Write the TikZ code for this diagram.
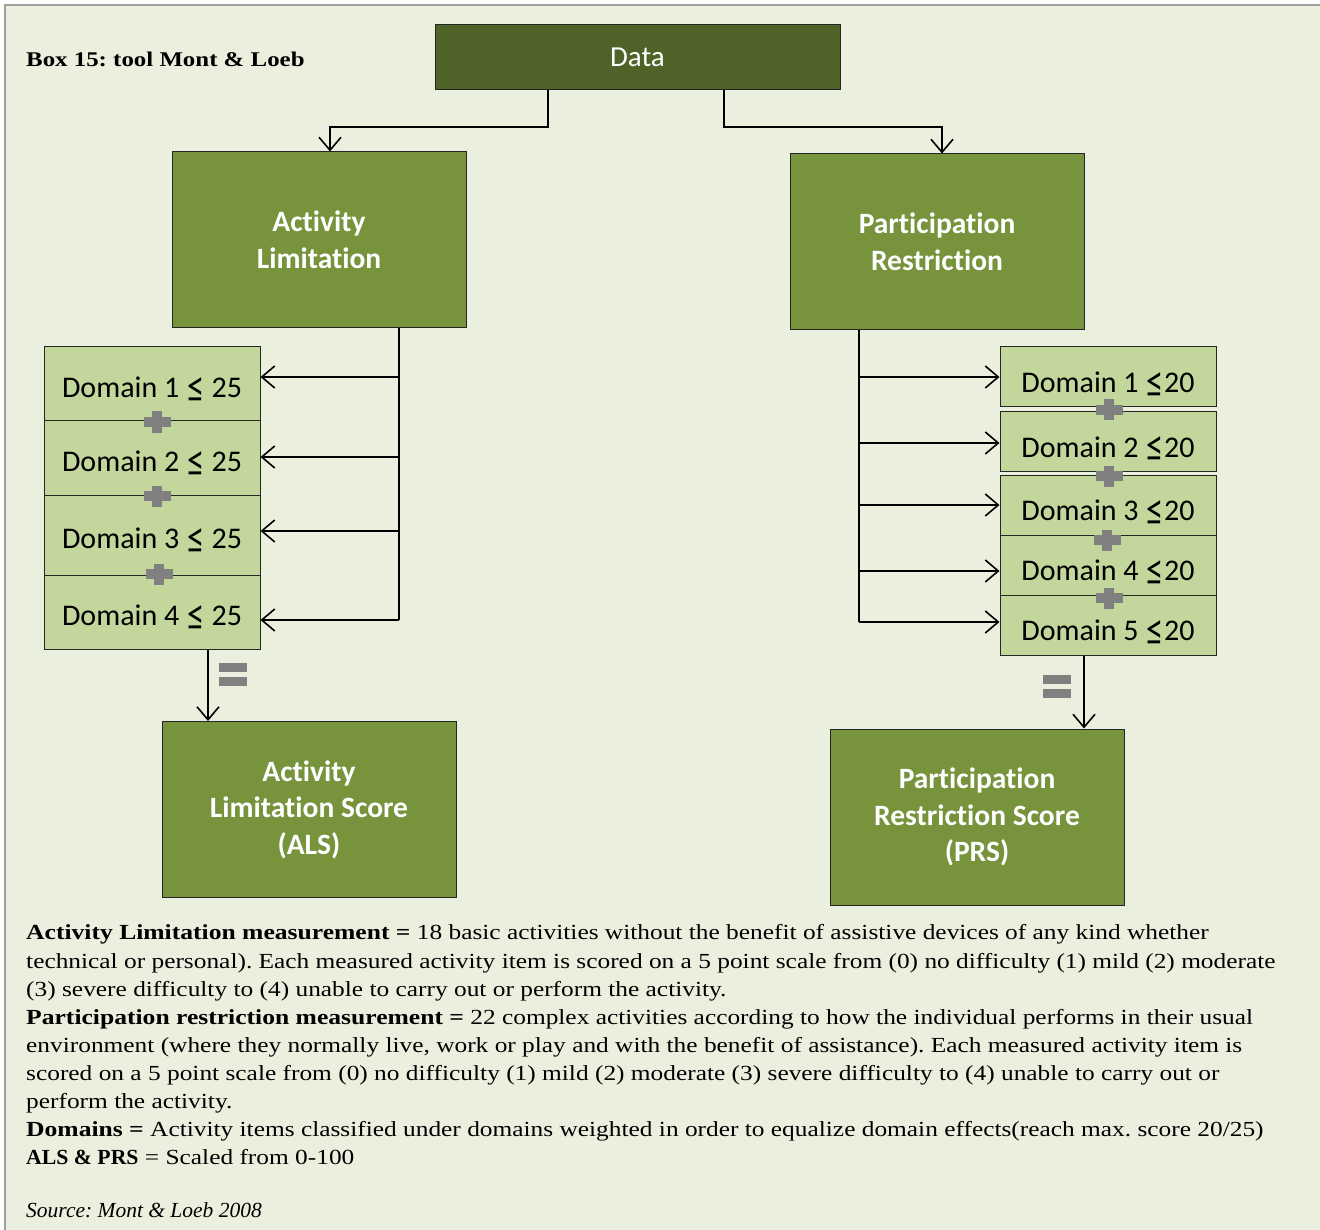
\documentclass[tikz,border=0pt]{standalone}
\usepackage{fontspec}
\setmainfont{Liberation Serif}[
  UprightFeatures={FakeStretch=1.18},
  BoldFeatures={FakeStretch=1.19},
  ItalicFeatures={FakeStretch=1.0}]
\newfontfamily\boxfont{Carlito}[Ligatures=CommonOff]
\usetikzlibrary{arrows.meta}
\definecolor{bgpale}{RGB}{235,240,222}
\definecolor{olivedark}{RGB}{79,98,40}
\definecolor{olivemid}{RGB}{119,147,60}
\definecolor{olivelight}{RGB}{195,214,155}
\definecolor{signgray}{RGB}{128,128,128}
\definecolor{framegray}{RGB}{160,160,160}

% taller less-or-equal sign for the domain labels, resting on the baseline
\newcommand\leqsign{\hspace{1.5pt}\raisebox{-5pt}{\scalebox{1.15}[1.5]{≤}}}

\tikzset{
  pics/plussign/.style={code={
    \fill[signgray] (-13.5,-5) rectangle (13.5,5);
    \fill[signgray] (-5,-10.5) rectangle (5,10.5);
  }},
  pics/equalsign/.style={code={
    \fill[signgray] (-14,-11.5) rectangle (14,-2.5);
    \fill[signgray] (-14,2.5) rectangle (14,11.5);
  }},
}

\begin{document}
\frenchspacing
\begin{tikzpicture}[x=1pt,y=-1pt,
  box/.style={draw=black!85, line width=1pt, rectangle, inner sep=0pt, align=center},
  topbox/.style={box, fill=olivedark, text=white, font=\boxfont\fontsize{29}{35}\selectfont},
  groupbox/.style={box, fill=olivemid, text=white,
    font=\boxfont\bfseries\fontsize{29.5}{36.5}\selectfont,
    minimum width=294pt, minimum height=176pt},
  dombox/.style={box, fill=olivelight, text=black,
    font=\boxfont\fontsize{30}{36}\selectfont, minimum width=216pt, text depth=0pt},
  arr/.style={line width=1.6pt, -{Straight Barb[length=13pt,width=22pt,line width=1.6pt]}},
  wire/.style={line width=1.6pt},
  body/.style={anchor=base west, inner sep=0pt, font=\fontsize{21.5}{28}\selectfont},
]
\useasboundingbox (0,0) rectangle (1320,1230);
\fill[white] (0,0) rectangle (1320,1230);
\draw[framegray, line width=2pt, fill=bgpale] (5,5) rectangle (1345,1255);

% heading
\node[body, font=\bfseries\fontsize{20.9}{28}\selectfont] (title) at (26,67) {Box 15: tool Mont \& Loeb};

% top of the tree
\node[topbox, minimum width=405pt, minimum height=65pt] (data) at (637.5,57.5) {Data};
\node[groupbox] (al) at (319,240) {Activity\\Limitation};
\node[groupbox] (pr) at (937,242) {Participation\\Restriction};

% left column of domains
\node[dombox, minimum height=74pt, text height=27pt] (d1) at (152,384) {Domain 1 \leqsign{} 25};
\node[dombox, minimum height=74pt, text height=27pt] (d2) at (152,458) {Domain 2 \leqsign{} 25};
\node[dombox, minimum height=80pt, text height=27pt] (d3) at (152,535) {Domain 3 \leqsign{} 25};
\node[dombox, minimum height=74pt, text height=27pt] (d4) at (152,612) {Domain 4 \leqsign{} 25};

% right column of domains
\node[dombox, minimum height=60pt, text height=31pt] (r1) at (1108,377) {Domain 1 \leqsign20};
\node[dombox, minimum height=59pt, text height=31pt] (r2) at (1108,441.5) {Domain 2 \leqsign20};
\node[dombox, minimum height=60pt, text height=31pt] (r3) at (1108,505) {Domain 3 \leqsign20};
\node[dombox, minimum height=60pt, text height=31pt] (r4) at (1108,565) {Domain 4 \leqsign20};
\node[dombox, minimum height=60pt, text height=31pt] (r5) at (1108,625) {Domain 5 \leqsign20};

% score boxes
\node[groupbox] (als) at (309,809.5) {Activity\\Limitation Score\\(ALS)};
\node[groupbox] (prs) at (977,817) {Participation\\Restriction Score\\(PRS)};

% operators between the domains
\pic at (157,422) {plussign};
\pic at (157,496) {plussign};
\pic at (159,574) {plussign};
\pic at (1109,410) {plussign};
\pic at (1109,476) {plussign};
\pic at (1107,540) {plussign};
\pic at (1109,598) {plussign};
\pic at (233,674) {equalsign};
\pic at (1057,686) {equalsign};

% branching from the data box
\coordinate (jl) at (548,127);
\coordinate (jr) at (724,127);
\coordinate (tl) at (330,127);
\coordinate (tr) at (942,127);
\draw[arr] (data.south -| jl) -- (jl) -- (tl) -- (al.north -| tl);
\draw[arr] (data.south -| jr) -- (jr) -- (tr) -- (pr.north -| tr);

% left bus feeding the domains
\coordinate (lb1) at (399,377);
\coordinate (lb2) at (399,457);
\coordinate (lb3) at (399,531);
\coordinate (lb4) at (399,620);
\draw[wire] (al.south -| lb1) -- (lb4);
\draw[arr] (lb1) -- (lb1 -| d1.east);
\draw[arr] (lb2) -- (lb2 -| d2.east);
\draw[arr] (lb3) -- (lb3 -| d3.east);
\draw[arr] (lb4) -- (lb4 -| d4.east);

% right bus feeding the domains
\coordinate (rb1) at (859,377);
\coordinate (rb2) at (859,443);
\coordinate (rb3) at (859,505);
\coordinate (rb4) at (859,571);
\coordinate (rb5) at (859,622);
\draw[wire] (pr.south -| rb1) -- (rb5);
\draw[arr] (rb1) -- (rb1 -| r1.west);
\draw[arr] (rb2) -- (rb2 -| r2.west);
\draw[arr] (rb3) -- (rb3 -| r3.west);
\draw[arr] (rb4) -- (rb4 -| r4.west);
\draw[arr] (rb5) -- (rb5 -| r5.west);

% sums into the scores
\coordinate (sl) at (208,0);
\coordinate (sr) at (1084,0);
\draw[arr] (d4.south -| sl) -- (als.north -| sl);
\draw[arr] (r5.south -| sr) -- (prs.north -| sr);

% notes
\node[body] (n1) at (26,939) {\textbf{Activity Limitation measurement =} 18 basic activities without the benefit of assistive devices of any kind whether};
\node[body] (n2) at (26,968) {technical or personal). Each measured activity item is scored on a 5 point scale from (0) no difficulty (1) mild (2) moderate};
\node[body] (n3) at (26,996) {(3) severe difficulty to (4) unable to carry out or perform the activity.};
\node[body] (n4) at (26,1024) {\textbf{Participation restriction measurement =} 22 complex activities according to how the individual performs in their usual};
\node[body] (n5) at (26,1052) {environment (where they normally live, work or play and with the benefit of assistance). Each measured activity item is};
\node[body] (n6) at (26,1080) {scored on a 5 point scale from (0) no difficulty (1) mild (2) moderate (3) severe difficulty to (4) unable to carry out or};
\node[body] (n7) at (26,1108) {perform the activity.};
\node[body] (n8) at (26,1136) {\textbf{Domains =} Activity items classified under domains weighted in order to equalize domain effects(reach max. score 20/25)};
\node[body] (n9) at (26,1164) {\scalebox{0.85}[1]{\textbf{ALS \& PRS}} = Scaled from 0-100};
\node[body] (src) at (26,1217) {\textit{Source: Mont \& Loeb 2008}};
\end{tikzpicture}
\end{document}
